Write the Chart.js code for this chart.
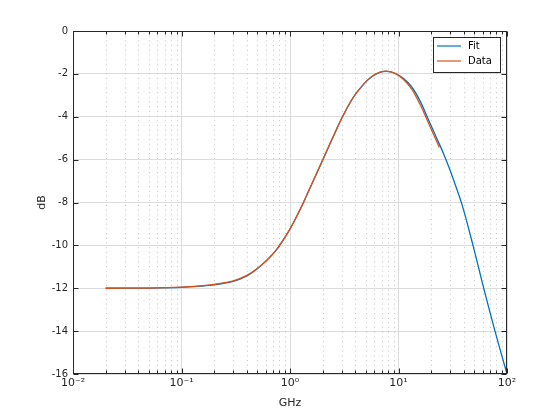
<!DOCTYPE html>
<html>
<head>
<meta charset="utf-8">
<script src="https://cdn.jsdelivr.net/npm/chart.js@4/dist/chart.umd.min.js"></script>
<style>
  html, body { margin: 0; padding: 0; background: #fff; }
  canvas { display: block; }
</style>
</head>
<body>
<canvas id="chart" width="560" height="420"></canvas>
<script>
// fitted response (GHz, dB)
const fitFreq = [0.02, 0.05, 0.1, 0.15, 0.2, 0.3, 0.4, 0.49, 0.61, 0.75, 0.93, 1.07, 1.28, 1.53, 1.82, 2.25, 2.69, 3.1, 3.83, 4.74, 5.66, 6.75, 7.78, 9.29, 11.07, 13.2, 15.8, 18.8, 22.5, 25.9, 29.9, 38.5, 48.6, 60, 77.5, 100];
const fitDb = [-12.0, -11.99, -11.96, -11.9, -11.84, -11.68, -11.42, -11.12, -10.7, -10.21, -9.51, -8.97, -8.19, -7.32, -6.48, -5.45, -4.58, -3.93, -3.1, -2.5, -2.13, -1.93, -1.88, -1.97, -2.21, -2.6, -3.26, -4.12, -5.0, -5.7, -6.5, -8.1, -10.0, -11.85, -14.0, -16.0];

// measured data (GHz, dB)
const dataFreq = [0.02, 0.05, 0.1, 0.15, 0.2, 0.3, 0.4, 0.49, 0.61, 0.75, 0.93, 1.07, 1.28, 1.53, 1.82, 2.25, 2.69, 3.1, 3.83, 4.74, 5.66, 6.75, 7.78, 9.29, 11.07, 13.2, 15.8, 18.0, 20.5, 23.8];
const dataDb = [-12.0, -11.99, -11.95, -11.89, -11.82, -11.66, -11.4, -11.11, -10.69, -10.2, -9.5, -8.96, -8.18, -7.31, -6.47, -5.44, -4.57, -3.92, -3.09, -2.49, -2.12, -1.92, -1.87, -1.98, -2.25, -2.7, -3.42, -4.05, -4.7, -5.43];

const xMajorTicks = [0.01, 0.1, 1, 10, 100];
const xTickLabels = ["10\u207B\u00B2", "10\u207B\u00B9", "10\u2070", "10\u00B9", "10\u00B2"];
const yTicks = [0, -2, -4, -6, -8, -10, -12, -14, -16];

const legendLabels = ["Fit", "Data"];
const colors = ["#0072BD", "#D95319"];

function toPoints(xs, ys) {
    return xs.map((x, i) => ({ x: x, y: ys[i] }));
}

// minor grid, box, inward ticks and legend in the matlab look
const matlabFrame = {
    id: "matlabFrame",
    beforeDatasetsDraw(chart) {
        const { ctx, chartArea: a, scales } = chart;
        ctx.save();
        ctx.strokeStyle = "#c4c4c4";
        ctx.lineWidth = 1;
        ctx.setLineDash([1, 3.7]);
        for (let d = -2; d < 2; d++) {
            for (let k = 2; k <= 9; k++) {
                const px = Math.round(scales.x.getPixelForValue(k * Math.pow(10, d))) + 0.5;
                ctx.beginPath();
                ctx.moveTo(px, a.top);
                ctx.lineTo(px, a.bottom);
                ctx.stroke();
            }
        }
        ctx.restore();
    },
    afterDatasetsDraw(chart) {
        const { ctx, chartArea: a, scales } = chart;
        const l = Math.round(a.left) + 0.5, r = Math.round(a.right) - 0.5;
        const t = Math.round(a.top) + 0.5, b = Math.round(a.bottom) - 0.5;
        ctx.save();
        ctx.strokeStyle = "#262626";
        ctx.lineWidth = 1;
        ctx.beginPath();
        // x ticks top and bottom
        for (let d = -2; d <= 2; d++) {
            for (let k = 1; k <= 9; k++) {
                if (d === 2 && k > 1) break;
                const px = Math.round(scales.x.getPixelForValue(k * Math.pow(10, d))) + 0.5;
                const len = k === 1 ? 5 : 3;
                ctx.moveTo(px, b); ctx.lineTo(px, b - len);
                ctx.moveTo(px, t); ctx.lineTo(px, t + len);
            }
        }
        // y ticks left and right
        yTicks.forEach(v => {
            const py = Math.round(scales.y.getPixelForValue(v)) + 0.5;
            ctx.moveTo(l, py); ctx.lineTo(l + 5, py);
            ctx.moveTo(r, py); ctx.lineTo(r - 5, py);
        });
        ctx.stroke();
        ctx.strokeRect(l, t, r - l, b - t);

        // legend
        const bx = 433.5, by = 37.5, bw = 67, bh = 35;
        ctx.fillStyle = "#fff";
        ctx.fillRect(bx, by, bw, bh);
        ctx.strokeRect(bx, by, bw, bh);
        ctx.font = "10px 'DejaVu Sans'";
        ctx.textBaseline = "middle";
        ctx.textAlign = "left";
        legendLabels.forEach((txt, i) => {
            const ly = 46 + i * 15;
            ctx.strokeStyle = colors[i];
            ctx.lineWidth = 1.2;
            ctx.beginPath();
            ctx.moveTo(437, ly); ctx.lineTo(461, ly);
            ctx.stroke();
            ctx.fillStyle = "#000";
            ctx.fillText(txt, 468, ly);
        });
        ctx.restore();
    }
};

new Chart(document.getElementById("chart"), {
    type: "line",
    data: {
        datasets: [{
            label: legendLabels[0],
            data: toPoints(fitFreq, fitDb),
            borderColor: colors[0],
            borderWidth: 1.3,
            pointRadius: 0,
            tension: 0.3,
            order: 1
        }, {
            label: legendLabels[1],
            data: toPoints(dataFreq, dataDb),
            borderColor: colors[1],
            borderWidth: 1.3,
            pointRadius: 0,
            tension: 0.3,
            order: 0
        }]
    },
    options: {
        responsive: false,
        animation: false,
        layout: { padding: { left: 0, top: 31, right: 53, bottom: 0 } },
        plugins: { legend: { display: false }, tooltip: { enabled: false } },
        scales: {
            x: {
                type: "logarithmic",
                min: 0.01,
                max: 100,
                afterBuildTicks: scale => { scale.ticks = xMajorTicks.map(v => ({ value: v })); },
                afterFit: scale => { scale.height = 46; },
                grid: { color: "#dcdcdc", drawTicks: false },
                border: { display: false },
                ticks: {
                    autoSkip: false,
                    maxRotation: 0,
                    padding: 3,
                    color: "#262626",
                    font: { family: "DejaVu Sans", size: 11 },
                    callback: value => xTickLabels[xMajorTicks.indexOf(value)]
                },
                title: {
                    display: true,
                    text: "GHz",
                    color: "#262626",
                    font: { family: "DejaVu Sans", size: 11 },
                    padding: { top: 0, bottom: 10 }
                }
            },
            y: {
                min: -16,
                max: 0,
                afterBuildTicks: scale => { scale.ticks = yTicks.map(v => ({ value: v })); },
                afterFit: scale => { scale.width = 73; },
                grid: { color: "#dcdcdc", drawTicks: false },
                border: { display: false },
                ticks: {
                    padding: 5,
                    color: "#262626",
                    font: { family: "DejaVu Sans", size: 10 },
                    callback: value => String(value)
                },
                title: {
                    display: true,
                    text: "dB",
                    color: "#262626",
                    font: { family: "DejaVu Sans", size: 11 },
                    padding: { top: 36, bottom: 0 }
                }
            }
        }
    },
    plugins: [matlabFrame]
});
</script>
</body>
</html>
